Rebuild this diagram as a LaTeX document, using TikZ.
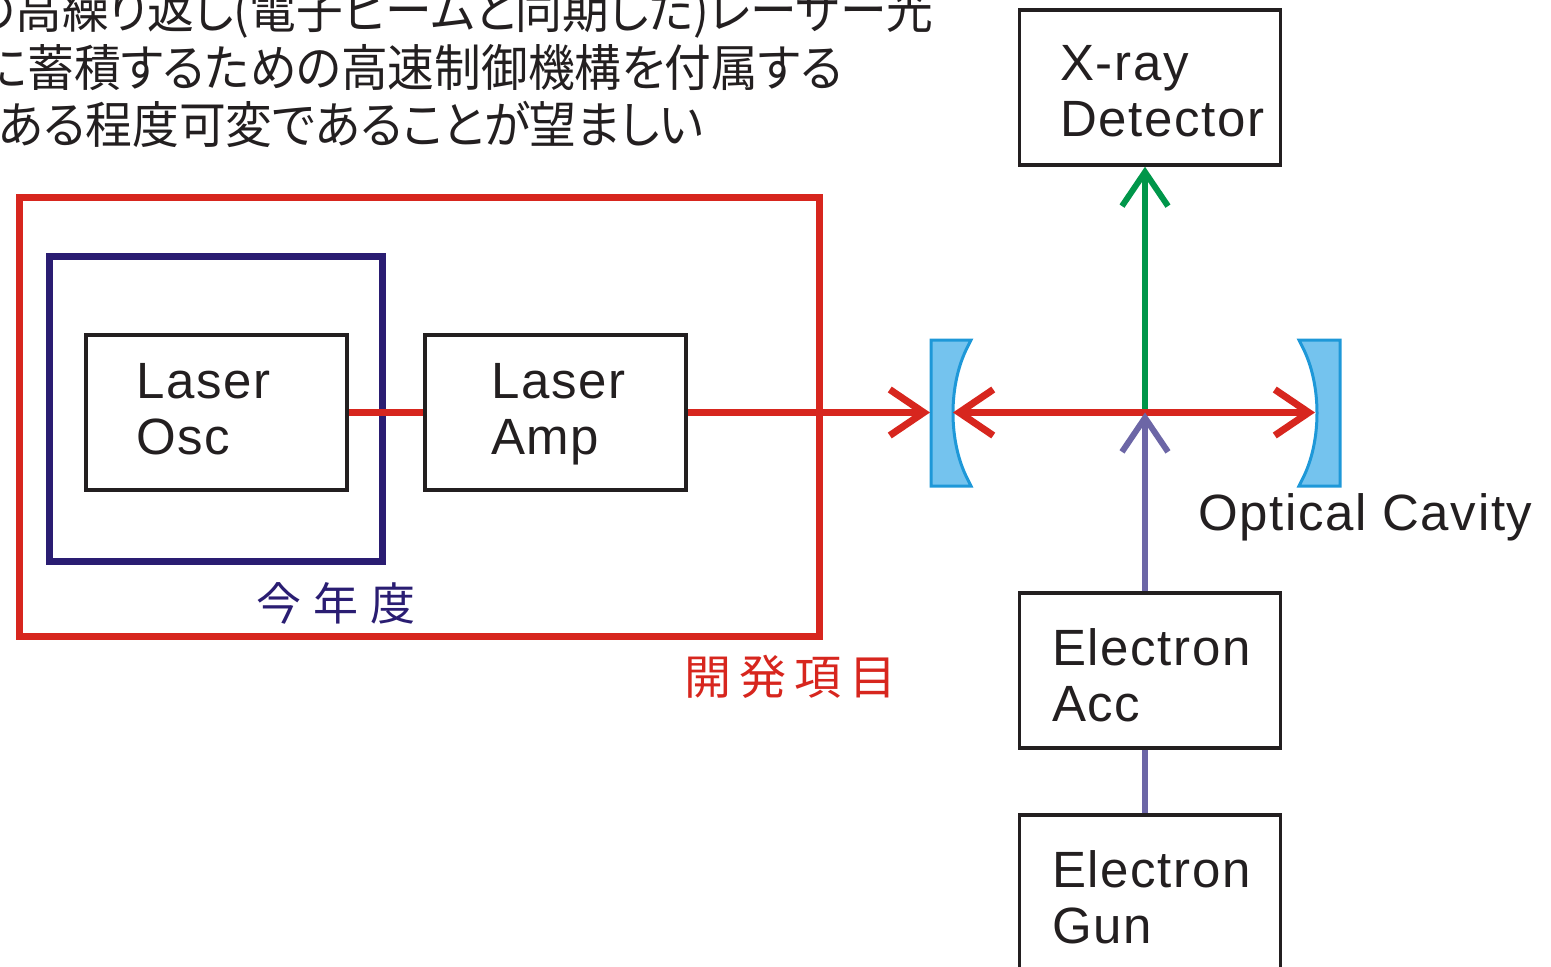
\documentclass[tikz,border=0pt]{standalone}
\usepackage{fontspec}
\setmainfont{Liberation Sans}
\newfontfamily\boxfont[LetterSpace=3.2]{Liberation Sans}
\newfontfamily\jpfont{Noto Sans CJK JP}
\newfontfamily\jpprop[RawFeature=+palt,FakeStretch=0.935]{Noto Sans CJK JP}
\usetikzlibrary{arrows.meta,positioning}
\definecolor{ink}{HTML}{231F20}
\definecolor{devred}{HTML}{D7261E}
\definecolor{yearnavy}{HTML}{2A1D72}
\definecolor{xgreen}{HTML}{00964A}
\definecolor{epurple}{HTML}{6C66A6}
\definecolor{mirrorfill}{HTML}{74C3EE}
\definecolor{mirroredge}{HTML}{1E98D8}
\tikzset{barb/.tip={Straight Barb[length=34pt,width=46pt]}}

\begin{document}
\begin{tikzpicture}[x=1pt,y=-1pt,
    block/.style={draw=ink,line width=3.5pt,minimum width=261pt,minimum height=155pt,inner sep=0pt},
    blocktext/.style={anchor=north west,align=left,inner sep=0pt,text=ink,
      font=\boxfont\fontsize{51}{56}\selectfont},
    areabox/.style={line width=7pt,inner sep=0pt},
    remark/.style={anchor=base west,inner sep=0pt,text=ink,font=\jpprop\fontsize{50}{56}\selectfont},
    beam/.style={line width=#1,-barb},
    mirror/.style={fill=mirrorfill,draw=mirroredge,line width=3pt},
  ]
  \useasboundingbox (0,0) rectangle (1551,967);

  % remarks, cut at the page edge
  \node[remark] (rem1) at (-30,28) {の高繰り返し(電子ビームと同期した)レーザー光};
  \node[remark] (rem2) at (-18,86) {に蓄積するための高速制御機構を付属する};
  \node[remark] (rem3) at (-2,143) {ある程度可変であることが望ましい};

  % development / this year frames
  \node[areabox,draw=devred,minimum width=800pt,minimum height=439pt] (devframe) at (419,416.5) {};
  \node[areabox,draw=yearnavy,minimum width=333pt,minimum height=305pt] (yearframe) at (215.5,408.5) {};
  \node[anchor=base west,inner sep=0pt,text=yearnavy,
    font=\jpfont\fontsize{45}{50}\selectfont\addfontfeature{LetterSpace=27}] (yearlabel) at (256,620) {今年度};
  \node[anchor=base west,inner sep=0pt,text=devred,
    font=\jpfont\fontsize{47}{52}\selectfont\addfontfeature{LetterSpace=17}] (devlabel) at (684,694) {開発項目};

  % laser chain
  \node[block] (osc) at (216.5,412.5) {};
  \node[block] (amp) at (555.5,412.5) {};
  \node[blocktext] (osctext) at (136,363.5) {Laser\\Osc};
  \node[blocktext] (amptext) at (491,363.5) {Laser\\Amp};

  % x-ray and electron side
  \node[block] (det) at (1150,87.5) {};
  \node[block] (acc) at (1150,670.5) {};
  \node[block,minimum height=160pt] (gun) at (1150,895) {};
  \node[blocktext] (dettext) at (1060,45.5) {X-ray\\Detector};
  \node[blocktext] (acctext) at (1052,628.5) {Electron\\Acc};
  \node[blocktext] (guntext) at (1052,850.5) {Electron\\Gun};

  % optical cavity
  \filldraw[mirror] (931,340) -- (971,340) -- (968,346) .. controls (948,384) and (948,442) .. (968,480) -- (971,486) -- (931,486) -- cycle;
  \filldraw[mirror] (1340,340) -- (1299,340) -- (1302,346) .. controls (1322,384) and (1322,442) .. (1302,480) -- (1299,486) -- (1340,486) -- cycle;
  \node[anchor=base west,inner sep=0pt,text=ink,font=\boxfont\fontsize{51}{56}\selectfont] (cavlabel) at (1198,530) {Optical Cavity};

  \coordinate (cross) at (1145,412.5);
  \coordinate (mirLin) at (930,412.5);
  \coordinate (mirLout) at (953,412.5);
  \coordinate (mirR) at (1315,412.5);

  % beams
  \draw[beam=6pt,draw=xgreen] (cross) -- ([xshift=-5pt]det.south);
  \draw[line width=7pt,draw=devred] (osc.east) -- (amp.west);
  \draw[beam=7pt,draw=devred] (amp.east) -- (mirLin);
  \draw[beam=7pt,draw=devred,barb-barb] (mirLout) -- (mirR);
  \draw[beam=6pt,draw=epurple] ([xshift=-5pt]acc.north) -- (cross);
  \draw[line width=6pt,draw=epurple] ([xshift=-5pt]gun.north) -- ([xshift=-5pt]acc.south);
\end{tikzpicture}
\end{document}
